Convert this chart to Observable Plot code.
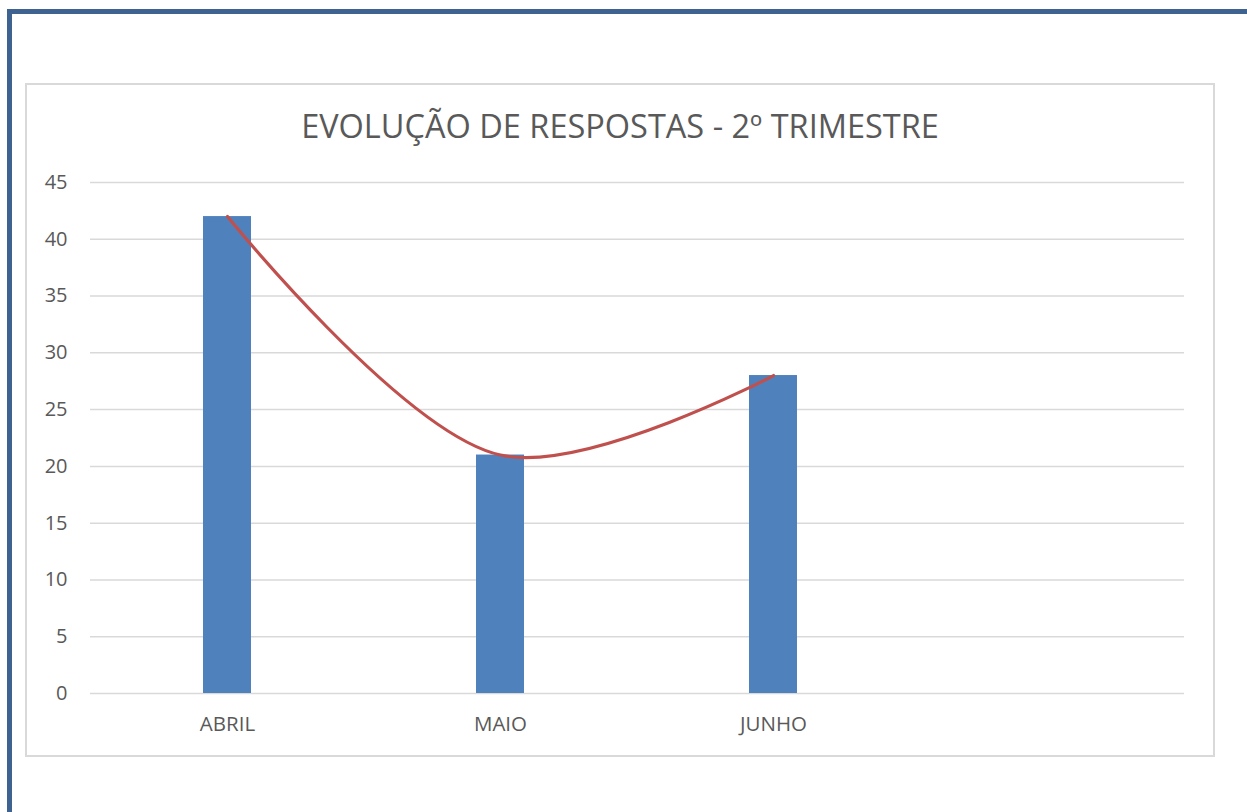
<!DOCTYPE html>
<html>
<head>
<meta charset="utf-8">
<script src="https://cdn.jsdelivr.net/npm/d3@7"></script>
<script src="https://cdn.jsdelivr.net/npm/@observablehq/plot@0.6"></script>
<style>
  html, body { margin: 0; padding: 0; background: #fff; }
  #page { position: relative; width: 1247px; height: 812px; overflow: hidden; font-family: "Open Sans", sans-serif; }
  #outer { position: absolute; left: 7px; top: 9px; width: 1300px; height: 900px; border-left: 5px solid #3f6391; border-top: 5px solid #3f6391; }
  #inner { position: absolute; left: 25px; top: 83px; width: 1186px; height: 670px; border: 2px solid #d9d9d9; }
  #title { position: absolute; left: 25px; width: 1190px; top: 104px; text-align: center; font-size: 32.5px; color: #595959; line-height: 44px; white-space: nowrap; }
  #chart { position: absolute; left: 25px; top: 160px; }
</style>
</head>
<body>
<div id="page">
  <div id="outer"></div>
  <div id="inner"></div>
  <div id="title">EVOLUÇÃO DE RESPOSTAS - 2º TRIMESTRE</div>
  <div id="chart"></div>
</div>
<script>
const categories = ["ABRIL", "MAIO", "JUNHO", " "];
const months = ["ABRIL", "MAIO", "JUNHO"];
const responses = [42, 21, 28];
const yTicks = [0, 5, 10, 15, 20, 25, 30, 35, 40, 45];

const data = months.map((m, i) => ({month: m, value: responses[i]}));

const chart = Plot.plot({
  width: 1188,
  height: 590,
  marginLeft: 65,
  marginRight: 29,
  marginTop: 22,
  marginBottom: 57,
  style: {fontFamily: "Open Sans, sans-serif", background: "transparent", overflow: "visible"},
  x: {domain: categories, paddingInner: 0.824, paddingOuter: 0.412, label: null},
  y: {domain: [0, 45], label: null},
  marks: [
    Plot.ruleY(yTicks, {stroke: "#d9d9d9", strokeWidth: 1.5}),
    Plot.barY(data, {x: "month", y: "value", fill: "#4f81bd"}),
    Plot.line(data, {x: "month", y: "value", stroke: "#c0504d", strokeWidth: 3.2, curve: "catmull-rom"}),
    Plot.axisY(yTicks, {tickSize: 0, tickPadding: 23, fontSize: 20, color: "#595959", label: null}),
    Plot.axisX(categories, {tickSize: 0, tickPadding: 23, fontSize: 20.5, color: "#595959", label: null})
  ]
});
document.getElementById("chart").appendChild(chart);
</script>
</body>
</html>
